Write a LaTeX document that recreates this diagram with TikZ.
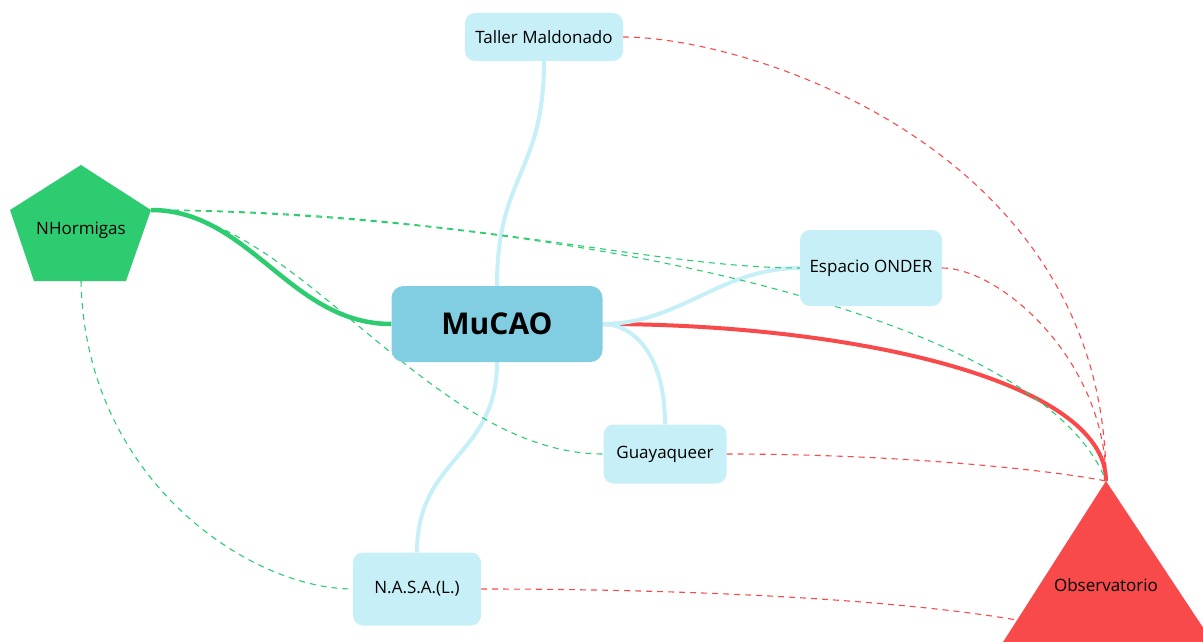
\documentclass[tikz,border=0pt]{standalone}
\usepackage{fontspec}
\setmainfont{Open Sans}
\usetikzlibrary{backgrounds}
\definecolor{mublue}{HTML}{81CEE2}
\definecolor{subblue}{HTML}{C6EFF7}
\definecolor{ngreen}{HTML}{2ECC71}
\definecolor{ored}{HTML}{F84A4A}
\begin{document}
\begin{tikzpicture}[x=1pt,y=-1pt,
  sub/.style={rectangle, rounded corners=10pt, fill=subblue, inner sep=0pt, text=black, font=\fontsize{17}{20}\selectfont},
  mainbox/.style={rectangle, rounded corners=12pt, fill=mublue, inner sep=0pt, text=black, font=\fontsize{30}{34}\selectfont\bfseries},
  lbl/.style={inner sep=0pt, text=black, font=\fontsize{17}{20}\selectfont},
  bluelink/.style={draw=subblue, line width=4pt},
  greendash/.style={draw=ngreen, line width=1.1pt, dash pattern=on 6pt off 5pt},
  reddash/.style={draw=ored, line width=1.1pt, dash pattern=on 6pt off 5pt},
]
\useasboundingbox (0,0) rectangle (1203,642);
\clip (0,0) rectangle (1203,642);

% shapes
\fill[ngreen] (81,165) -- (151,210) -- (126,281) -- (34,281) -- (10,210) -- cycle;
\coordinate (nhR) at (151,210);
\coordinate (nhB) at (81,281);
\node[lbl] (nh) at (81,230) {NHormigas};

\fill[ored] (1106,481) -- (1251,700) -- (966,700) -- cycle;
\coordinate (obA) at (1106,481);
\coordinate (obL) at (1017,620);
\node[lbl] (ob) at (1106,585) {Observatorio};

\node[mainbox, minimum width=211pt, minimum height=76pt] (mu) at (497,324) {MuCAO};
\node[sub, minimum width=158pt, minimum height=48pt] (tm) at (544,37) {Taller Maldonado};
\node[sub, minimum width=142pt, minimum height=76pt] (eo) at (871,268) {Espacio ONDER};
\node[sub, minimum width=123pt, minimum height=59pt] (gq) at (665,454) {Guayaqueer};
\node[sub, minimum width=128pt, minimum height=73pt] (na) at (417,589) {N.A.S.A.(L.)};

\begin{scope}[on background layer]
% red thick
\draw[draw=ored, line width=4pt] (mu.east) .. controls (850,324) and (1106,380) .. (obA);
% blue links
\draw[bluelink] (mu.north) .. controls (497,174) and (544,174) .. (tm.south);
\draw[bluelink] (mu.south) .. controls (497,457) and (417,457) .. (na.north);
\draw[bluelink] (mu.east) .. controls (680,324) and (720,268) .. (eo.west);
\draw[bluelink] (mu.east) .. controls (630,324) and (665,350) .. (gq.north);
% green thick
\draw[draw=ngreen, line width=4.5pt] (nhR) .. controls (250,210) and (290,324) .. (mu.west);
% green dashed
\draw[greendash] (nhR) .. controls (450,210) and (650,268) .. (eo.west);
\draw[greendash] (nhR) .. controls (550,215) and (1040,310) .. (obA);
\draw[greendash] (nhR) .. controls (300,215) and (430,454) .. (gq.west);
\draw[greendash] (nhB) .. controls (85,480) and (250,589) .. (na.west);
% red dashed
\draw[reddash] (tm.east) .. controls (750,37) and (1106,150) .. (obA);
\draw[reddash] (eo.east) .. controls (1000,268) and (1106,360) .. (obA);
\draw[reddash] (gq.east) .. controls (900,454) and (1050,470) .. (obA);
\draw[reddash] (na.east) .. controls (700,589) and (900,600) .. (obL);
\end{scope}
\end{tikzpicture}
\end{document}
